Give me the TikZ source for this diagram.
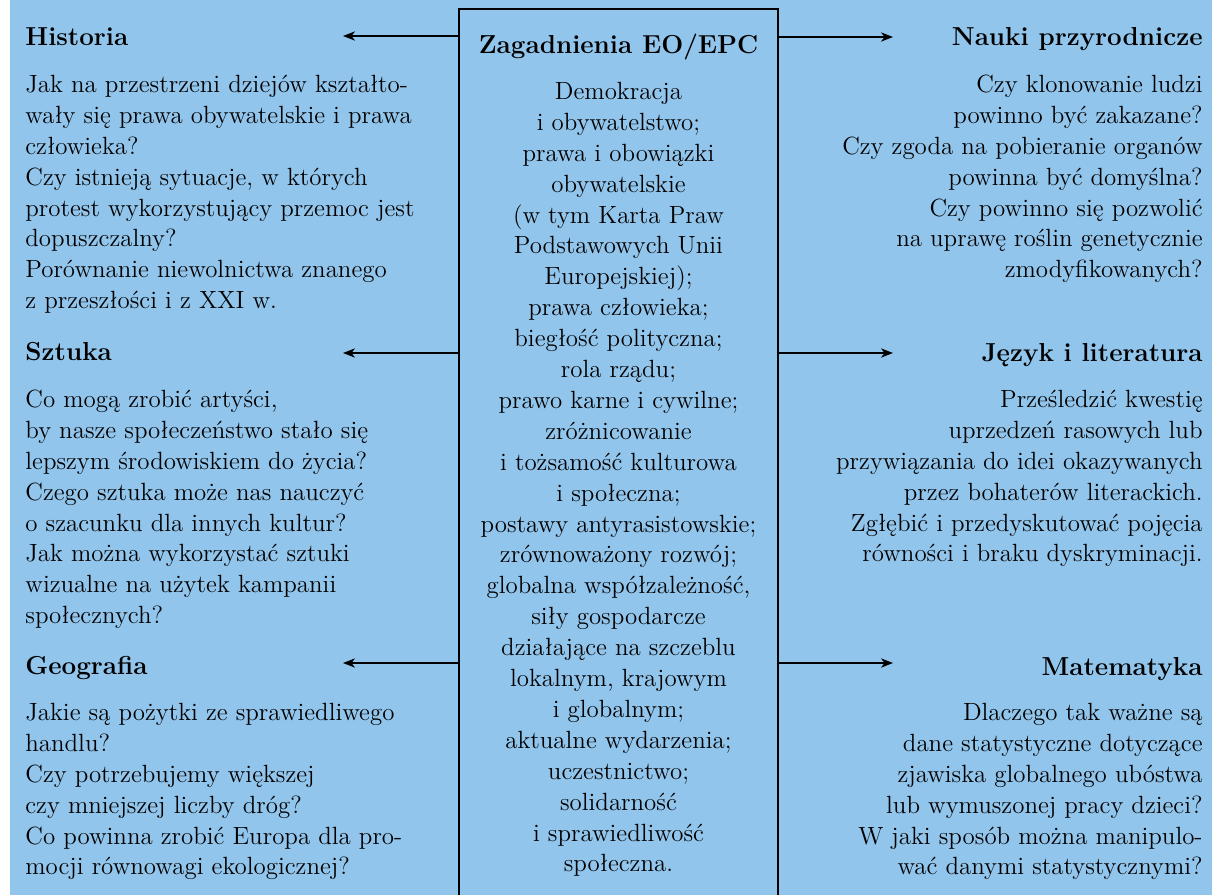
\documentclass[tikz,border=0pt]{standalone}
\usepackage{fontspec}
\usepackage{tikz}
\usetikzlibrary{positioning}
\usetikzlibrary{arrows.meta}

\definecolor{panelblue}{RGB}{146,197,236}

\tikzset{
	body/.style={font=\fontsize{12.45}{15.45}\selectfont, inner sep=0pt},
	subject/.style={font=\fontsize{13}{16}\selectfont\bfseries, inner sep=0pt},
	arr/.style={-{Stealth[length=6pt,width=4.6pt,inset=1.8pt]}, line width=0.7pt},
	corebox/.style={draw, line width=0.75pt, inner sep=0pt, outer sep=0pt,
		minimum width=159.5pt, minimum height=450pt, anchor=north west},
}

\begin{document}
\begin{tikzpicture}[x=0.5pt,y=-0.5pt]
	\useasboundingbox (0,0) rectangle (1212,895);
	\fill[white] (0,0) rectangle (1212,895);
	\fill[panelblue] (10,0) rectangle (1212,895);
	\clip (0,0) rectangle (1212,895);

	% central box
	\node[corebox] (core) at (459,9) {};
	\node[subject, anchor=base] (title) at (618.5,53) {Zagadnienia EO/EPC};
	\node[body, align=center, anchor=north] (topics) at (618.5,77.4) {\strut Demokracja\\
		i obywatelstwo;\\prawa i obowiązki\\obywatelskie\\(w tym Karta Praw\\
		Podstawowych Unii\\Europejskiej);\\prawa człowieka;\\biegłość polityczna;\\
		rola rządu;\\prawo karne i cywilne;\\zróżnicowanie\\i tożsamość kulturowa\\
		i społeczna;\\postawy antyrasistowskie;\\zrównoważony rozwój;\\
		globalna współzależność,\\siły gospodarcze\\działające na szczeblu\\
		lokalnym, krajowym\\i globalnym;\\aktualne wydarzenia;\\uczestnictwo;\\
		solidarność\\i sprawiedliwość\\społeczna.};

	% left subjects
	\node[subject, anchor=base west] (hist) at (25,45) {Historia};
	\node[body, align=left, anchor=north west] (histq) at (25,70.4) {\strut Jak na przestrzeni dziejów kształto-\\
		wały się prawa obywatelskie i prawa\\człowieka?\\Czy istnieją sytuacje, w których\\
		protest wykorzystujący przemoc jest\\dopuszczalny?\\Porównanie niewolnictwa znanego\\
		z przeszłości i z XXI w.};
	\node[subject, anchor=base west] (art) at (25,360) {Sztuka};
	\node[body, align=left, anchor=north west] (artq) at (25,385.4) {\strut Co mogą zrobić artyści,\\
		by nasze społeczeństwo stało się\\lepszym środowiskiem do życia?\\
		Czego sztuka może nas nauczyć\\o szacunku dla innych kultur?\\
		Jak można wykorzystać sztuki\\wizualne na użytek kampanii\\społecznych?};
	\node[subject, anchor=base west] (geo) at (25,674) {Geografia};
	\node[body, align=left, anchor=north west] (geoq) at (25,698.4) {\strut Jakie są pożytki ze sprawiedliwego\\
		handlu?\\Czy potrzebujemy większej\\czy mniejszej liczby dróg?\\
		Co powinna zrobić Europa dla pro-\\mocji równowagi ekologicznej?};

	% right subjects
	\node[subject, anchor=base east] (sci) at (1203,45) {Nauki przyrodnicze};
	\node[body, align=right, anchor=north east] (sciq) at (1203,70.4) {\strut Czy klonowanie ludzi\\
		powinno być zakazane?\\Czy zgoda na pobieranie organów\\powinna być domyślna?\\
		Czy powinno się pozwolić\\na uprawę roślin genetycznie\\zmodyfikowanych?};
	\node[subject, anchor=base east] (lang) at (1203,361) {Język i literatura};
	\node[body, align=right, anchor=north east] (langq) at (1203,385.4) {\strut Prześledzić kwestię\\
		uprzedzeń rasowych lub\\przywiązania do idei okazywanych\\przez bohaterów literackich.\\
		Zgłębić i przedyskutować pojęcia\\równości i braku dyskryminacji.};
	\node[subject, anchor=base east] (math) at (1203,675) {Matematyka};
	\node[body, align=right, anchor=north east] (mathq) at (1203,698.4) {\strut Dlaczego tak ważne są\\
		dane statystyczne dotyczące\\zjawiska globalnego ubóstwa\\lub wymuszonej pracy dzieci?\\
		W jaki sposób można manipulo-\\wać danymi statystycznymi?};

	% arrow ends
	\coordinate (histend) at (343,36);
	\coordinate (artend) at (343,353);
	\coordinate (geoend) at (343,663);
	\coordinate (sciend) at (893,37);
	\coordinate (langend) at (893,353);
	\coordinate (mathend) at (893,663);

	\draw[arr] (core.west |- histend) -- (histend);
	\draw[arr] (core.west |- artend) -- (artend);
	\draw[arr] (core.west |- geoend) -- (geoend);
	\draw[arr] (core.east |- sciend) -- (sciend);
	\draw[arr] (core.east |- langend) -- (langend);
	\draw[arr] (core.east |- mathend) -- (mathend);
\end{tikzpicture}
\end{document}
